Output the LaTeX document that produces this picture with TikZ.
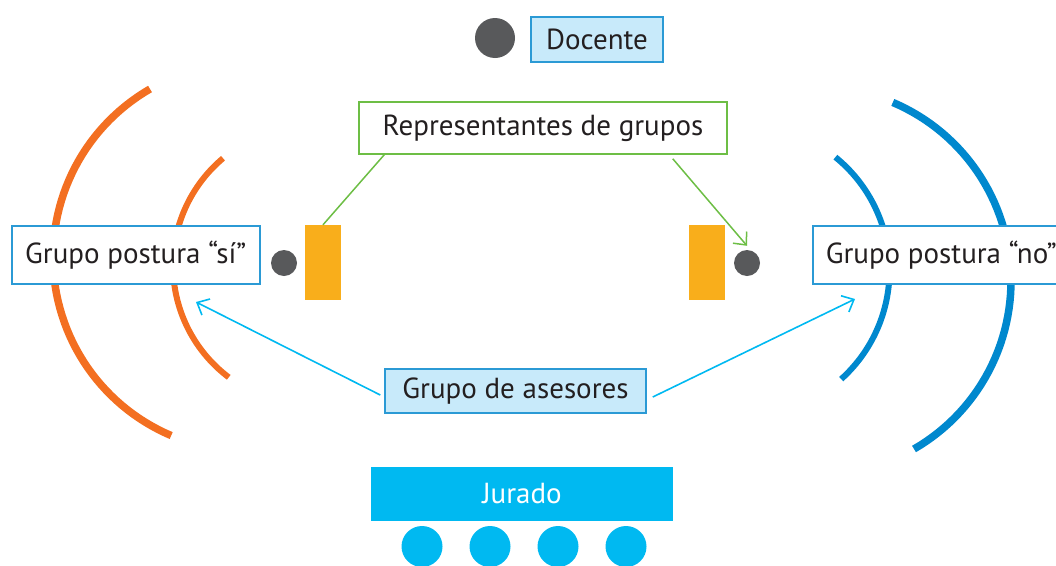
\documentclass[tikz,border=0pt]{standalone}
\usepackage{fontspec}
\setmainfont{PT Sans}
\usetikzlibrary{arrows.meta, positioning}
\definecolor{dotgray}{HTML}{58595B}
\definecolor{benchorange}{HTML}{F9AE1B}
\definecolor{arcorange}{HTML}{F36F21}
\definecolor{arcblue}{HTML}{0088CE}
\definecolor{jurycyan}{HTML}{00B9F1}
\definecolor{lightcyan}{HTML}{C8EAFA}
\definecolor{boxblue}{HTML}{2B9AD5}
\definecolor{linegreen}{HTML}{6DBE45}
\definecolor{textdark}{HTML}{231F20}
\tikzstyle{dot} = [circle, fill=dotgray, inner sep=0pt]
\tikzstyle{bench} = [rectangle, fill=benchorange, minimum width=36, minimum height=75, inner sep=0pt]
\tikzstyle{tagbox} = [rectangle, draw=boxblue, fill=white, line width=1.5pt, text=textdark, font=\fontsize{29}{32}\selectfont, inner sep=0pt]
\tikzstyle{cyanbox} = [tagbox, fill=lightcyan]
\tikzstyle{greenbox} = [tagbox, draw=linegreen]
\tikzstyle{jurydot} = [circle, fill=jurycyan, inner sep=0pt, minimum size=41]
\tikzstyle{arrow} = [line width=1.6pt, -{Straight Barb[length=10pt,width=18pt]}]

\begin{document}
\begin{tikzpicture}[x=1pt, y=-1pt]
\useasboundingbox (0,0) rectangle (1056,565);

%teacher
\node[dot, minimum size=40] (docdot) at (495,38) {};
\node[cyanbox, minimum width=132, minimum height=45] (docente) at (597,39.5) {Docente};

%arcs of the two groups
\draw[arcorange, line width=7.5pt] plot[domain=113:240, samples=60] ({247+194*cos(\x)},{257+194*sin(\x)});
\draw[arcorange, line width=6pt] plot[domain=127:230, samples=60] ({313+140*cos(\x)},{265.5+140*sin(\x)});
\draw[arcblue, line width=7.5pt] plot[domain=-67:60, samples=60] ({817+194*cos(\x)},{281+194*sin(\x)});
\draw[arcblue, line width=6pt] plot[domain=-51:48, samples=60] ({743.5+146*cos(\x)},{270.6+146*sin(\x)});

%representatives
\node[greenbox, minimum width=368, minimum height=52] (repr) at (543,128) {Representantes de grupos};
\node[bench] (benchsi) at (323,262.5) {};
\node[bench] (benchno) at (707,262.5) {};
\node[dot, minimum size=26] (dotsi) at (284,263) {};
\node[dot, minimum size=26] (dotno) at (747,263) {};

\draw[linegreen, line width=1.5pt] ([xshift=26pt]repr.south west) -- (benchsi.north);
\draw[arrow, linegreen, line width=1.5pt] ([xshift=-55pt,yshift=-4pt]repr.south east) -- ([yshift=4pt]dotno.north);

%groups
\node[tagbox, anchor=west, minimum width=248, minimum height=58] (si) at (11,255) {Grupo postura “sí”};
\node[tagbox, anchor=west, inner xsep=13pt, minimum height=58] (no) at (812,255) {Grupo postura “no”};

%advisors
\node[cyanbox, minimum width=261, minimum height=44] (ases) at (515.5,391) {Grupo de asesores};
\coordinate (tipsi) at (196,302);
\coordinate (tipno) at (855,299);
\draw[arrow, jurycyan] ([xshift=-4pt,yshift=-4pt]ases.west) -- (tipsi);
\draw[arrow, jurycyan] ([xshift=6pt,yshift=-6pt]ases.east) -- (tipno);

%jury
\node[rectangle, fill=jurycyan, text=white, font=\fontsize{29}{32}\selectfont, minimum width=302, minimum height=54, inner sep=0pt] (jurado) at (522,494) {Jurado};
\foreach \i in {0,...,3}
{
\node[jurydot] (jur\i) at (422+68*\i,546.5) {};
}

\end{tikzpicture}
\end{document}
